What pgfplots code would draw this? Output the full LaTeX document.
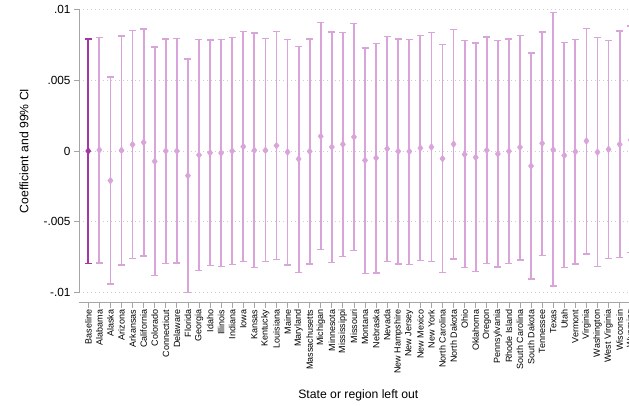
\documentclass[border=0pt]{standalone}
\usepackage{pgfplots}
\pgfplotsset{compat=1.18}
\usepackage{pgfplotstable}
\usepackage{fontspec}
\setmainfont{Liberation Sans}

\definecolor{cilight}{RGB}{217,164,217}
\definecolor{cidark}{RGB}{165,55,165}
\definecolor{axisgray}{RGB}{165,165,165}
\definecolor{gridgray}{RGB}{205,205,205}

% Baseline estimate with its 99% confidence interval
\pgfplotstableread{
x coef lo hi
0 0.00000 -0.00793 0.00790
}\basetab

% Estimates with one state left out
\pgfplotstableread{
x coef lo hi
1 0.00007 -0.00790 0.00800
2 -0.00209 -0.00939 0.00522
3 0.00005 -0.00805 0.00812
4 0.00045 -0.00758 0.00849
5 0.00061 -0.00741 0.00861
6 -0.00073 -0.00878 0.00734
7 0.00000 -0.00793 0.00790
8 0.00000 -0.00790 0.00793
9 -0.00174 -0.00998 0.00649
10 -0.00028 -0.00845 0.00788
11 -0.00012 -0.00809 0.00784
12 -0.00014 -0.00816 0.00788
13 0.00000 -0.00802 0.00800
14 0.00031 -0.00781 0.00842
15 0.00005 -0.00821 0.00833
16 0.00005 -0.00781 0.00793
17 0.00038 -0.00765 0.00842
18 -0.00007 -0.00805 0.00788
19 -0.00056 -0.00856 0.00739
20 -0.00002 -0.00798 0.00790
21 0.00104 -0.00694 0.00906
22 0.00028 -0.00786 0.00840
23 0.00047 -0.00746 0.00835
24 0.00099 -0.00704 0.00899
25 -0.00066 -0.00864 0.00727
26 -0.00049 -0.00861 0.00758
27 0.00016 -0.00779 0.00807
28 -0.00002 -0.00798 0.00790
29 -0.00003 -0.00800 0.00788
30 0.00021 -0.00772 0.00814
31 0.00028 -0.00781 0.00835
32 -0.00054 -0.00856 0.00753
33 0.00049 -0.00762 0.00856
34 -0.00024 -0.00824 0.00779
35 -0.00045 -0.00852 0.00762
36 0.00005 -0.00793 0.00805
37 -0.00021 -0.00819 0.00779
38 -0.00002 -0.00795 0.00790
39 0.00026 -0.00769 0.00814
40 -0.00106 -0.00904 0.00692
41 0.00054 -0.00739 0.00840
42 0.00009 -0.00953 0.00976
43 -0.00031 -0.00821 0.00765
44 -0.00005 -0.00798 0.00788
45 0.00071 -0.00727 0.00866
46 -0.00008 -0.00816 0.00800
47 0.00012 -0.00758 0.00781
48 0.00047 -0.00753 0.00848
49 0.00078 -0.00717 0.00882
}\statetab

\begin{document}
\begin{tikzpicture}
\begin{axis}[
  scale only axis,
  width=561bp, height=283.4bp,
  xmin=-0.84, xmax=49.84,
  ymin=-0.01, ymax=0.01,
  clip=false,
  axis lines*=left,
  axis x line shift=10bp,
  axis line style={axisgray, line width=0.8bp},
  tick align=outside,
  major tick length=5bp,
  tick style={axisgray, line width=0.8bp},
  xtick={0,...,49},
  xticklabels={Baseline,Alabama,Alaska,Arizona,Arkansas,California,Colorado,Connecticut,Delaware,Florida,Georgia,Idaho,Illinois,Indiana,Iowa,Kansas,Kentucky,Louisiana,Maine,Maryland,Massachusetts,Michigan,Minnesota,Mississippi,Missouri,Montana,Nebraska,Nevada,New Hampshire,New Jersey,New Mexico,New York,North Carolina,North Dakota,Ohio,Oklahoma,Oregon,Pennsylvania,Rhode Island,South Carolina,South Dakota,Tennessee,Texas,Utah,Vermont,Virginia,Washington,West Virginia,Wisconsin,Wyoming},
  xticklabel style={rotate=90, anchor=east, inner sep=2bp, font=\fontsize{9bp}{10bp}\selectfont},
  ytick={-0.01,-0.005,0,0.005,0.01},
  yticklabels={-.01,-.005,0,.005,.01},
  scaled y ticks=false,
  yticklabel style={font=\fontsize{11.8bp}{13bp}\selectfont},
  ymajorgrids,
  grid style={gridgray, line width=0.8bp, dash pattern=on 1bp off 3bp},
  every axis x label/.style={at={(axis description cs:0.498,-0.361)}, anchor=center, font=\fontsize{12.2bp}{14bp}\selectfont},
  every axis y label/.style={at={(axis description cs:-0.098,0.5)}, anchor=center, rotate=90, font=\fontsize{12.2bp}{14bp}\selectfont},
  xlabel={State or region left out},
  ylabel={Coefficient and 99\% CI},
]
\addplot[
  only marks, mark=diamond*, mark size=3.5bp,
  mark options={cilight, fill=cilight},
  error bars/.cd, y dir=both, y explicit,
  error bar style={cilight, line width=1.8bp},
  error mark options={cilight, rotate=90, line width=1.4bp, mark size=3.5bp},
] table[x=x, y=coef,
  y error plus expr=\thisrow{hi}-\thisrow{coef},
  y error minus expr=\thisrow{coef}-\thisrow{lo}] {\statetab};
\addplot[
  only marks, mark=diamond*, mark size=3.5bp,
  mark options={cidark, fill=cidark},
  error bars/.cd, y dir=both, y explicit,
  error bar style={cidark, line width=1.8bp},
  error mark options={cidark, rotate=90, line width=1.4bp, mark size=3.5bp},
] table[x=x, y=coef,
  y error plus expr=\thisrow{hi}-\thisrow{coef},
  y error minus expr=\thisrow{coef}-\thisrow{lo}] {\basetab};
\end{axis}
\pgfresetboundingbox
\useasboundingbox (-79bp,-113.3bp) rectangle (550bp,292.7bp);
\end{tikzpicture}
\end{document}
